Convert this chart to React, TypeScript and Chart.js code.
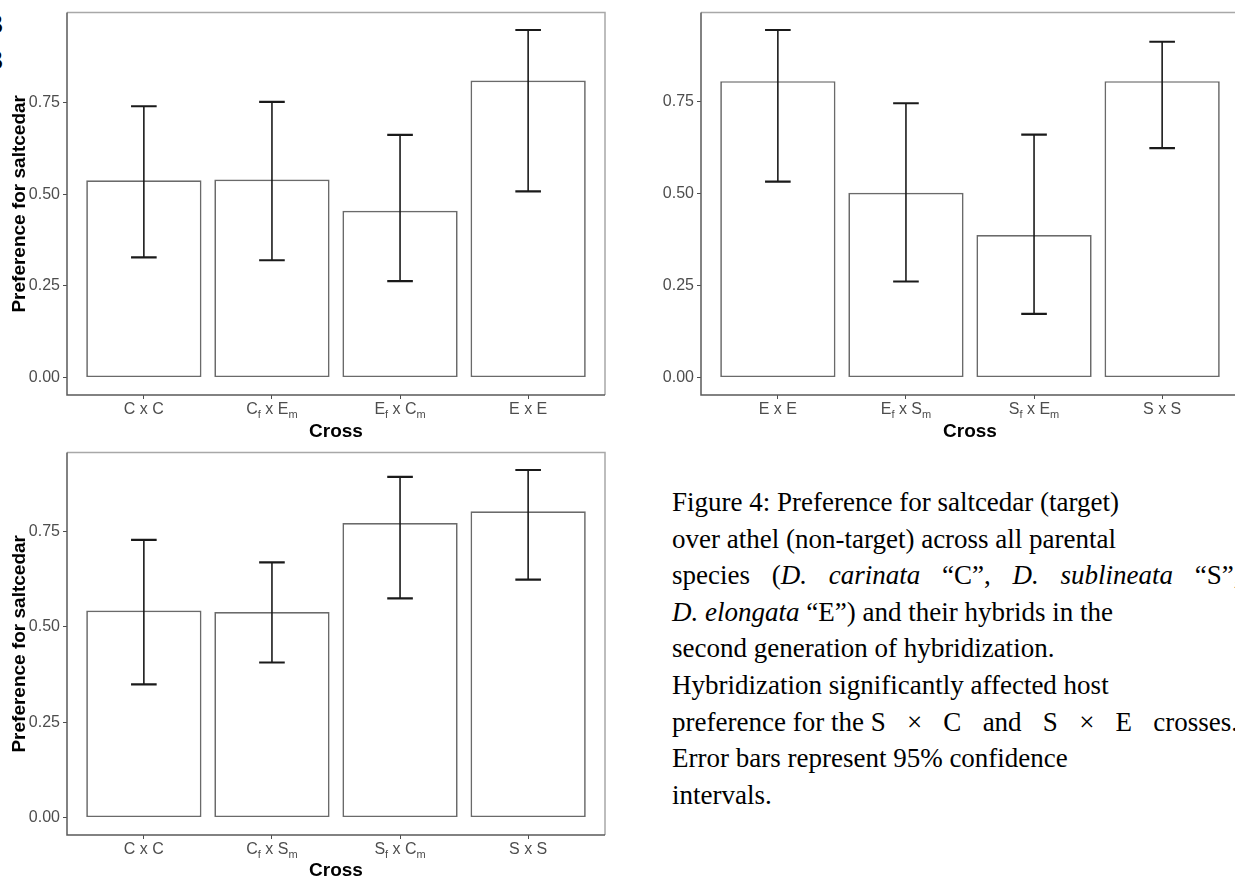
import React, { useEffect, useRef } from "react";
import { Chart, registerables } from "chart.js";

Chart.register(...registerables);

// ---- data ----
const tlCategories = ["C x C", "C_f x E_m", "E_f x C_m", "E x E"];
const tlMeans = [0.538, 0.54, 0.455, 0.81];
const tlLower = [0.328, 0.32, 0.263, 0.508];
const tlUpper = [0.74, 0.752, 0.662, 0.948];

const trCategories = ["E x E", "E_f x S_m", "S_f x E_m", "S x S"];
const trMeans = [0.805, 0.502, 0.387, 0.805];
const trLower = [0.532, 0.261, 0.173, 0.623];
const trUpper = [0.944, 0.745, 0.66, 0.912];

const blCategories = ["C x C", "C_f x S_m", "S_f x C_m", "S x S"];
const blMeans = [0.542, 0.538, 0.771, 0.802];
const blLower = [0.349, 0.406, 0.574, 0.623];
const blUpper = [0.727, 0.668, 0.892, 0.91];

const yTicks = [0, 0.25, 0.5, 0.75];
const yTitle = "Preference for saltcedar";
const xTitle = "Cross";

const SANS = '"Liberation Sans", Arial, Helvetica, sans-serif';

type PanelProps = {
  categories: string[];
  means: number[];
  lower: number[];
  upper: number[];
  showYTitle: boolean;
  left: number;
  top: number;
  width: number;
  height: number;
  padTop: number;
  padRight: number;
  yWidth: number;
  xHeight: number;
};

function drawSubLabel(ctx: CanvasRenderingContext2D, text: string, cx: number, y: number) {
  const parts: { t: string; sub: boolean }[] = [];
  let buf = "";
  let i = 0;
  while (i < text.length) {
    if (text[i] === "_" && i + 1 < text.length) {
      if (buf) {
        parts.push({ t: buf, sub: false });
        buf = "";
      }
      parts.push({ t: text[i + 1], sub: true });
      i += 2;
    } else {
      buf += text[i];
      i++;
    }
  }
  if (buf) parts.push({ t: buf, sub: false });
  const mainFont = `16px ${SANS}`;
  const subFont = `11px ${SANS}`;
  const widths = parts.map((p) => {
    ctx.font = p.sub ? subFont : mainFont;
    return ctx.measureText(p.t).width;
  });
  const total = widths.reduce((a, b) => a + b, 0);
  let x = cx - total / 2;
  ctx.textAlign = "left";
  ctx.textBaseline = "alphabetic";
  ctx.fillStyle = "#4d4d4d";
  parts.forEach((p, k) => {
    ctx.font = p.sub ? subFont : mainFont;
    ctx.fillText(p.t, x, p.sub ? y + 4 : y);
    x += widths[k];
  });
}

function BarPanel(p: PanelProps) {
  const ref = useRef<HTMLCanvasElement>(null);
  useEffect(() => {
    const maxHi = Math.max(...p.upper);
    const yMin = -0.05 * maxHi;
    const yMax = 1.05 * maxHi;
    const n = p.categories.length;

    const decor = {
      id: "decor",
      afterDatasetsDraw(chart: any) {
        const { ctx, chartArea, scales } = chart;
        const xs = scales.x;
        const ys = scales.y;
        ctx.save();
        // error bars
        ctx.strokeStyle = "#1a1a1a";
        for (let i = 0; i < n; i++) {
          const cx = xs.getPixelForValue(i);
          const half = xs.getPixelForValue(i + 0.1) - cx;
          const yl = ys.getPixelForValue(p.lower[i]);
          const yh = ys.getPixelForValue(p.upper[i]);
          ctx.lineWidth = 1.6;
          ctx.beginPath();
          ctx.moveTo(cx, yl);
          ctx.lineTo(cx, yh);
          ctx.stroke();
          ctx.lineWidth = 2.2;
          ctx.beginPath();
          ctx.moveTo(cx - half, yl);
          ctx.lineTo(cx + half, yl);
          ctx.moveTo(cx - half, yh);
          ctx.lineTo(cx + half, yh);
          ctx.stroke();
        }
        // panel border
        const { left, right, top, bottom } = chartArea;
        ctx.lineWidth = 1.5;
        ctx.strokeStyle = "#a8a8a8";
        ctx.beginPath();
        ctx.moveTo(left, top);
        ctx.lineTo(right, top);
        ctx.lineTo(right, bottom);
        ctx.stroke();
        ctx.strokeStyle = "#5a5a5a";
        ctx.beginPath();
        ctx.moveTo(left, top);
        ctx.lineTo(left, bottom);
        ctx.lineTo(right, bottom);
        ctx.stroke();
        // x labels with subscripts
        for (let i = 0; i < n; i++) {
          drawSubLabel(ctx, p.categories[i], xs.getPixelForValue(i), bottom + 19);
        }
        ctx.restore();
      },
    };

    const chart = new Chart(ref.current as HTMLCanvasElement, {
      type: "bar",
      data: {
        datasets: [
          {
            data: p.means.map((v, i) => ({ x: i, y: v })) as any,
            backgroundColor: "#ffffff",
            borderColor: "#6a6a6a",
            borderWidth: 1.7,
            borderSkipped: false,
            barPercentage: 0.9,
            categoryPercentage: 1,
          },
        ],
      },
      options: {
        responsive: false,
        animation: false,
        devicePixelRatio: 1,
        layout: { padding: { left: 0, top: p.padTop, right: p.padRight, bottom: 0 } },
        plugins: { legend: { display: false }, tooltip: { enabled: false } },
        scales: {
          x: {
            type: "linear",
            offset: false,
            min: -0.6,
            max: n - 1 + 0.6,
            afterBuildTicks: (s: any) => {
              s.ticks = p.categories.map((_, i) => ({ value: i }));
            },
            afterFit: (s: any) => {
              s.height = p.xHeight;
            },
            grid: {
              offset: false,
              drawOnChartArea: false,
              drawTicks: true,
              tickLength: 4,
              color: "#4d4d4d",
            },
            border: { display: false },
            ticks: { color: "rgba(0,0,0,0)", maxRotation: 0, autoSkip: false, callback: () => "" },
            title: {
              display: true,
              text: xTitle,
              color: "#000",
              font: { family: SANS, size: 19, weight: "bold" },
              padding: { top: 0, bottom: 0 },
            },
          },
          y: {
            type: "linear",
            min: yMin,
            max: yMax,
            afterBuildTicks: (s: any) => {
              s.ticks = yTicks.map((v) => ({ value: v }));
            },
            afterFit: (s: any) => {
              s.width = p.yWidth;
            },
            grid: { drawOnChartArea: false, drawTicks: true, tickLength: 4, color: "#4d4d4d" },
            border: { display: false },
            ticks: {
              color: "#4d4d4d",
              font: { family: SANS, size: 16 },
              padding: 3,
              callback: (v: any) => Number(v).toFixed(2),
            },
            title: {
              display: p.showYTitle,
              text: yTitle,
              color: "#000",
              font: { family: SANS, size: 19, weight: "bold" },
              padding: { top: 8, bottom: 0 },
            },
          },
        },
      } as any,
      plugins: [decor],
    });
    return () => chart.destroy();
  }, []);
  return (
    <canvas
      ref={ref}
      width={p.width}
      height={p.height}
      style={{ position: "absolute", left: p.left, top: p.top }}
    />
  );
}

const serifFont = '27px "Liberation Serif", "Times New Roman", serif';

const captionStyle: React.CSSProperties = {
  position: "absolute",
  left: 672,
  top: 484,
  font: serifFont,
  lineHeight: "36.6px",
  whiteSpace: "nowrap",
  color: "#000",
};

export default function App() {
  return (
    <div
      style={{
        position: "absolute",
        left: 0,
        top: 0,
        width: 1235,
        height: 882,
        overflow: "hidden",
        background: "#fff",
      }}
    >
      <div
        style={{
          position: "absolute",
          left: -10.5,
          top: 5.6,
          font: serifFont,
          lineHeight: "36.6px",
          color: "#000",
        }}
      >
        3<br />3
      </div>
      <BarPanel
        categories={tlCategories}
        means={tlMeans}
        lower={tlLower}
        upper={tlUpper}
        showYTitle={true}
        left={0}
        top={0}
        width={625}
        height={443}
        padTop={10}
        padRight={20}
        yWidth={67}
        xHeight={48}
      />
      <BarPanel
        categories={trCategories}
        means={trMeans}
        lower={trLower}
        upper={trUpper}
        showYTitle={false}
        left={620}
        top={0}
        width={640}
        height={443}
        padTop={9}
        padRight={21}
        yWidth={81}
        xHeight={48}
      />
      <BarPanel
        categories={blCategories}
        means={blMeans}
        lower={blLower}
        upper={blUpper}
        showYTitle={true}
        left={0}
        top={440}
        width={625}
        height={442}
        padTop={8}
        padRight={20}
        yWidth={67}
        xHeight={47}
      />
      <div style={captionStyle}>
        Figure 4: Preference for saltcedar (target)
        <br />
        over athel (non-target) across all parental
        <br />
        <span style={{ wordSpacing: "15px" }}>
          species (<i>D. carinata</i> “C”, <i>D. sublineata</i> “S”,
        </span>
        <br />
        <i>D. elongata</i> “E”) and their hybrids in the
        <br />
        second generation of hybridization.
        <br />
        Hybridization significantly affected host
        <br />
        preference for the <span style={{ wordSpacing: "14.5px" }}>S × C and S × E crosses.</span>
        <br />
        Error bars represent 95% confidence
        <br />
        intervals.
      </div>
    </div>
  );
}
